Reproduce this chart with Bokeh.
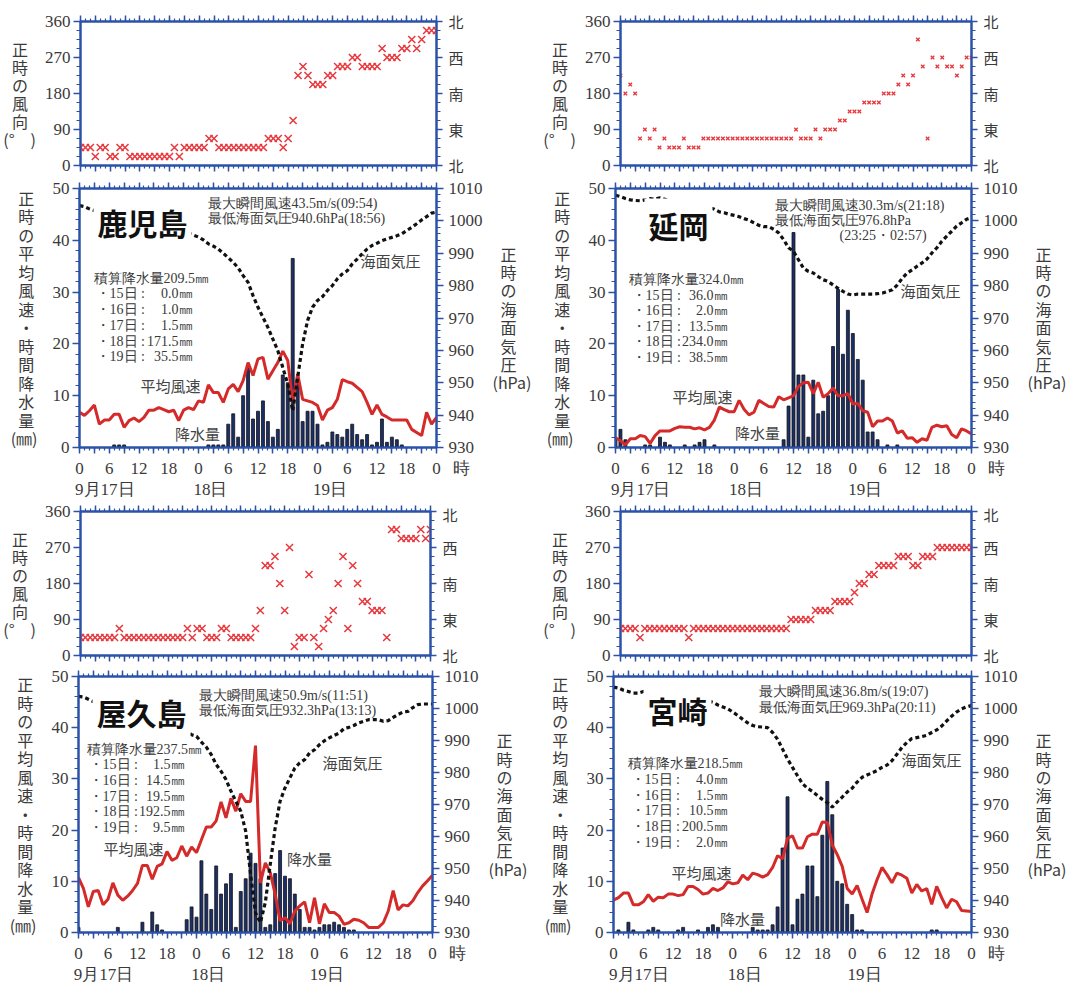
from bokeh.plotting import figure
from bokeh.models import Range1d, LinearAxis, FixedTicker, Label
from bokeh.layouts import column, row
from bokeh.embed import file_html
from bokeh.resources import INLINE

HOURS = list(range(73))
DAY_LABELS = ["9月17日", "18日", "19日"]
RAIN_DAYS = ["15日", "16日", "17日", "18日", "19日"]

# ---------------- 鹿児島 ----------------
kago_dir = [45, 45, 45, 22.5, 45, 45, 22.5, 22.5, 45, 45,
            22.5, 22.5, 22.5, 22.5, 22.5, 22.5, 22.5, 22.5, 22.5, 45,
            22.5, 45, 45, 45, 45, 45, 67.5, 67.5, 45, 45,
            45, 45, 45, 45, 45, 45, 45, 45, 67.5, 67.5,
            67.5, 45, 67.5, 112.5, 225, 247.5, 225, 202.5, 202.5, 202.5,
            225, 225, 247.5, 247.5, 247.5, 270, 270, 247.5, 247.5, 247.5,
            247.5, 292.5, 270, 270, 270, 292.5, 292.5, 315, 292.5, 315,
            337.5, 337.5, 337.5]
kago_wind = [6.8, 6.2, 7.1, 8.2, 4.5, 5.3, 5.3, 6.4, 6.4, 3.9,
             5.2, 5.7, 5.0, 5.8, 7.2, 7.2, 7.7, 7.3, 6.9, 7.2,
             5.2, 7.2, 7.7, 7.3, 9.0, 8.7, 12.1, 10.6, 10.6, 8.7,
             11.3, 12.2, 10.8, 12.9, 16.4, 13.9, 17.1, 17.4, 13.2, 14.8,
             16.4, 18.6, 16.8, 8.7, 14.2, 9.3, 9.0, 8.7, 8.1, 5.3,
             7.2, 7.7, 9.3, 13.1, 12.7, 12.4, 11.6, 10.8, 8.7, 6.4,
             8.2, 6.4, 5.9, 5.3, 5.3, 5.3, 5.3, 3.5, 2.9, 2.3,
             6.8, 4.5, 5.8]
kago_pres = [1004.7, 1004.4, 1003.7, 1003.2, 1002.8, 1002.5, 1002.3, 1002.0, 1001.8, 1001.5,
             1001.3, 1001.0, 1000.6, 1000.2, 999.8, 999.5, 999.1, 998.7, 998.3, 997.9,
             997.5, 996.9, 996.3, 995.6, 995.0, 994.1, 992.9, 992.2, 991.3, 990.0,
             988.6, 987.2, 985.5, 983.1, 981.0, 976.9, 973.3, 970.2, 967.1, 963.5,
             959.9, 954.7, 949.6, 941.3, 951.6, 962.0, 969.2, 973.3, 975.4, 976.6,
             978.5, 980.0, 982.1, 983.6, 984.6, 986.7, 988.2, 989.8, 991.3, 992.4,
             993.1, 993.9, 994.4, 994.9, 995.4, 996.0, 997.0, 998.0, 999.1, 1000.3,
             1001.3, 1002.4, 1002.7]
kago_rain = [0, 0, 0, 0, 0, 0, 0, 0.5, 0.5, 0.5,
             0, 0, 0, 0, 0, 0, 0, 0, 0, 0,
             0, 0, 0, 0, 0, 0, 0.5, 0.5, 0.5, 0.5,
             4.5, 6.5, 2.0, 10, 15.5, 5.5, 7, 9, 5, 2,
             3.5, 14, 12.5, 36.5, 12.5, 5, 7, 7, 4.5, 0.5,
             1, 3, 2.5, 2, 3.5, 4.5, 2.5, 1.5, 2.5, 0.5,
             1, 5.5, 1, 2, 1.5, 0.5, 0, 0, 0, 0,
             0, 0, 0]
kago_rain_days = ["0.0㎜", "1.0㎜", "1.5㎜", "171.5㎜", "35.5㎜"]

# ---------------- 延岡 ----------------
nobe_dir = [225, 180, 202.5, 180, 67.5, 90, 67.5, 90, 45, 67.5,
            45, 45, 45, 67.5, 45, 45, 45, 67.5, 67.5, 67.5,
            67.5, 67.5, 67.5, 67.5, 67.5, 67.5, 67.5, 67.5, 67.5, 67.5,
            67.5, 67.5, 67.5, 67.5, 67.5, 67.5, 90, 67.5, 67.5, 67.5,
            90, 67.5, 90, 90, 90, 112.5, 112.5, 135, 135, 135,
            157.5, 157.5, 157.5, 157.5, 180, 180, 180, 202.5, 225, 202.5,
            225, 315, 247.5, 67.5, 270, 247.5, 270, 247.5, 247.5, 225,
            247.5, 270, 270]
nobe_wind = [1.9, 1.3, 0.5, 1.7, 1.7, 2.3, 2.1, 0.8, 2.3, 3.2,
             3.2, 3.2, 3.7, 4.0, 3.9, 3.9, 3.6, 3.8, 3.4, 3.9,
             5.3, 7.8, 7.3, 6.9, 6.9, 9.1, 7.4, 6.3, 6.8, 9.1,
             8.5, 7.9, 7.8, 9.8, 9.2, 9.6, 10.0, 11.8, 12.5, 12.6,
             10.4, 12.6, 9.7, 10.4, 11.5, 10.0, 10.0, 10.4, 8.4, 8.5,
             7.1, 6.8, 4.0, 5.1, 5.1, 5.7, 5.1, 2.8, 3.2, 1.8,
             1.9, 1.0, 1.7, 1.4, 3.9, 4.3, 4.0, 4.2, 2.5, 1.9,
             3.6, 3.2, 2.6]
nobe_pres = [1007.9, 1007.5, 1006.9, 1006.5, 1006.3, 1006.2, 1006.5, 1006.9, 1006.7, 1007.1,
             1006.7, 1006.1, 1005.6, 1005.1, 1004.8, 1004.4, 1004.4, 1004.1, 1004.2, 1004.1,
             1003.6, 1002.8, 1002.5, 1002.0, 1001.7, 1001.3, 1000.7, 1000.2, 999.4, 998.6,
             998.2, 998.2, 997.4, 996.3, 994.2, 991.7, 990.6, 988.0, 985.4, 984.4,
             983.9, 982.8, 981.8, 981.3, 980.2, 979.2, 978.2, 977.4, 977.1, 977.4,
             977.4, 977.4, 977.4, 977.5, 977.7, 978.2, 978.7, 980.2, 982.3, 983.9,
             984.9, 986.0, 987.0, 988.2, 990.1, 991.7, 993.7, 995.3, 996.8, 998.4,
             999.4, 1000.5, 1001.0]
nobe_rain = [1.5, 3.5, 1.5, 0, 0, 0, 0.5, 0.5, 0, 2.0,
             1.0, 0.5, 0, 0, 0.5, 0, 0.5, 1.0, 1.5, 0,
             0.5, 0, 0, 0, 0, 0, 0, 0, 0, 0,
             0, 0, 0, 0, 1.5, 8, 41.5, 14, 14, 2,
             13, 6.5, 7, 10, 19.5, 30.5, 18, 26.5, 22, 17,
             13, 3, 3, 1.5, 0, 0.5, 0, 0.5, 0, 0,
             0, 0, 0, 0, 0, 0, 0, 0, 0, 0,
             0, 0, 0]
nobe_rain_days = ["36.0㎜", "2.0㎜", "13.5㎜", "234.0㎜", "38.5㎜"]

# ---------------- 屋久島 ----------------
yaku_dir = [45, 45, 45, 45, 45, 45, 45, 45, 67.5, 45,
            45, 45, 45, 45, 45, 45, 45, 45, 45, 45,
            45, 45, 67.5, 45, 67.5, 67.5, 45, 45, 45, 67.5,
            67.5, 45, 45, 45, 45, 45, 67.5, 112.5, 225, 225,
            247.5, 180, 112.5, 270, 22.5, 45, 45, 202.5, 45, 22.5,
            67.5, 90, 112.5, 180, 247.5, 67.5, 225, 180, 135, 135,
            112.5, 112.5, 112.5, 45, 315, 315, 292.5, 292.5, 292.5, 292.5,
            315, 292.5, 315]
yaku_wind = [10.7, 8.6, 5.0, 8.0, 8.2, 5.4, 6.5, 9.7, 7.3, 6.3,
             7.1, 8.2, 9.6, 13.1, 13.1, 10.4, 12.9, 13.4, 15.8, 14.1,
             14.6, 16.9, 14.9, 16.7, 15.6, 18.1, 20.6, 20.6, 21.8, 25.5,
             22.4, 26.2, 23.7, 27.1, 25.6, 25.6, 36.5, 9.7, 13.6, 11.7,
             7.5, 2.3, 2.9, 1.7, 4.2, 5.2, 6.0, 1.9, 6.8, 1.7,
             5.6, 3.9, 3.9, 3.2, 1.6, 1.9, 2.6, 2.4, 1.9, 1.0,
             1.0, 1.0, 1.9, 4.2, 8.2, 4.4, 5.4, 5.2, 6.2, 7.8,
             9.1, 10.1, 11.2]
yaku_pres = [1003.8, 1003.6, 1002.9, 1002.2, 1001.8, 1001.5, 1001.2, 1000.9, 1000.6, 1000.3,
             1000.0, 999.6, 999.2, 998.8, 998.4, 998.0, 997.5, 997.0, 996.4, 995.8,
             995.1, 994.4, 992.9, 991.8, 991.3, 989.5, 987.9, 985.6, 982.5, 980.4,
             977.8, 974.2, 971.0, 967.9, 961.7, 948.2, 936.2, 933.1, 939.4, 951.3,
             962.7, 971.0, 975.2, 978.3, 981.4, 983.0, 984.0, 986.1, 987.1, 988.7,
             989.9, 990.8, 991.6, 992.3, 993.7, 994.1, 994.7, 995.5, 996.0, 996.5,
             996.5, 996.5, 996.0, 996.2, 997.2, 998.1, 998.9, 999.1, 1000.3, 1001.2,
             1001.4, 1001.4, 1001.4]
yaku_rain = [1.0, 0, 0, 0, 0, 0, 0, 0, 1.0, 0,
             0, 0, 0, 2.0, 0, 4.0, 1.5, 0.5, 0, 0,
             0, 0, 2.5, 5.0, 3.0, 14, 7.5, 4.5, 13, 7.5,
             9.5, 11.5, 1.0, 8.0, 10.5, 15.5, 13.5, 10.5, 1.0, 1.5,
             11.5, 16, 11, 10.5, 7.5, 4.5, 1.0, 1.0, 0.5, 1.0,
             1.5, 1.5, 2.0, 1.5, 1.0, 0.5, 0.5, 0, 0, 0,
             0, 0, 0, 0, 0, 0, 0, 0, 0, 0,
             0, 0, 0]
yaku_rain_days = ["1.5㎜", "14.5㎜", "19.5㎜", "192.5㎜", "9.5㎜"]

# ---------------- 宮崎 ----------------
miya_dir = [67.5, 67.5, 67.5, 67.5, 45, 67.5, 67.5, 67.5, 67.5, 67.5,
            67.5, 67.5, 67.5, 67.5, 45, 67.5, 67.5, 67.5, 67.5, 67.5,
            67.5, 67.5, 67.5, 67.5, 67.5, 67.5, 67.5, 67.5, 67.5, 67.5,
            67.5, 67.5, 67.5, 67.5, 67.5, 90, 90, 90, 90, 90,
            112.5, 112.5, 112.5, 112.5, 135, 135, 135, 135, 157.5, 180,
            180, 202.5, 202.5, 225, 225, 225, 225, 247.5, 247.5, 247.5,
            225, 225, 247.5, 247.5, 247.5, 270, 270, 270, 270, 270,
            270, 270, 270]
miya_wind = [6.3, 6.8, 7.7, 7.7, 5.4, 5.4, 6.0, 7.4, 6.1, 6.9,
             6.8, 7.5, 7.5, 7.2, 7.4, 9.0, 9.0, 8.4, 7.5, 7.7,
             8.6, 8.2, 8.7, 9.9, 9.5, 9.7, 11.2, 10.3, 11.6, 11.3,
             10.8, 11.3, 12.7, 15.0, 14.4, 18.4, 18.9, 16.5, 16.5, 18.7,
             19.2, 19.2, 21.6, 21.5, 17.1, 15.2, 12.9, 8.6, 7.5, 9.2,
             6.5, 3.9, 7.5, 10.3, 12.7, 11.3, 9.7, 11.6, 11.2, 10.6,
             7.7, 9.4, 8.1, 8.6, 5.5, 9.0, 6.8, 4.8, 6.5, 6.0,
             4.3, 4.2, 4.1]
miya_pres = [1006.7, 1006.4, 1005.7, 1005.3, 1004.8, 1004.8, 1005.3, 1005.7, 1005.7, 1005.5,
             1005.5, 1005.0, 1004.8, 1004.5, 1004.2, 1003.9, 1003.6, 1003.2, 1002.8, 1002.4,
             1001.9, 1001.1, 1000.5, 999.9, 998.9, 997.8, 996.6, 995.5, 994.7, 994.3,
             994.2, 994.0, 992.5, 990.4, 987.3, 984.2, 981.6, 979.0, 976.5, 975.1,
             974.1, 972.8, 971.6, 970.6, 969.2, 970.8, 972.3, 973.9, 975.1, 977.0,
             978.5, 979.2, 979.9, 980.6, 981.6, 982.3, 983.7, 985.7, 987.8, 989.4,
             990.6, 990.9, 991.2, 991.6, 992.5, 993.3, 994.5, 996.1, 997.6, 998.9,
             999.9, 1000.5, 1000.9]
miya_rain = [0, 0.5, 0, 2.0, 0.5, 0, 0, 0.5, 1.0, 0.5,
             0, 0, 0, 0.5, 1.0, 0, 0, 0.5, 0, 1.0,
             1.5, 1.0, 0, 0, 0, 0, 0, 0, 1.0, 0.5,
             0.5, 0.5, 1.5, 5.0, 16.5, 26.5, 1.5, 6.5, 7.5, 13,
             13, 7, 19, 29.5, 23, 10, 9.5, 5.5, 3.5, 0.5,
             0.5, 0, 0, 0, 0, 0, 0, 0, 0, 0,
             0, 0, 0, 0, 0.5, 0.5, 0, 0, 0, 0,
             0, 0, 0]
miya_rain_days = ["4.0㎜", "1.5㎜", "10.5㎜", "200.5㎜", "2.0㎜"]

# ---------------- styling ----------------
AX = "#2c52a8"
RED = "#d42a2a"
MARK = "#e8383d"
BAR = "#1b2f6b"
TXT = "#3a3a3a"
SERIF = "Liberation Serif"
CJK = "Noto Sans CJK JP"
DATE_POS = [5.1, 26.4, 50.5]   # label anchor hours for the date row
EN = "\u2002"


def style_axis(ax, out_major, out_minor, size="17px", font=SERIF, standoff=4, show=True):
    ax.axis_line_color = AX
    ax.axis_line_width = 2
    ax.major_tick_line_color = AX
    ax.major_tick_line_width = 1.5
    ax.minor_tick_line_color = AX
    ax.minor_tick_line_width = 1.2
    ax.major_tick_in = 0
    ax.major_tick_out = out_major
    ax.minor_tick_in = 0
    ax.minor_tick_out = out_minor
    ax.major_label_text_font = font
    ax.major_label_text_color = TXT
    if show:
        ax.major_label_text_font_size = size
        ax.major_label_standoff = standoff
    else:
        ax.major_label_text_font_size = "0px"
        ax.major_label_standoff = 0
    return ax


def stacked_label(ax, chars, size, lh, standoff):
    ax.axis_label = "\n".join(chars)
    ax.axis_label_text_font = CJK
    ax.axis_label_text_font_size = size
    ax.axis_label_text_font_style = "normal"
    ax.axis_label_text_color = TXT
    ax.axis_label_text_line_height = lh
    ax.axis_label_standoff = standoff
    if "axis_label_orientation" in ax.properties():
        ax.axis_label_orientation = "horizontal"


def hour_axis(show):
    ticks = list(range(0, 73, 3))
    ax = LinearAxis(ticker=FixedTicker(ticks=ticks, minor_ticks=HOURS))
    if show:
        ov = {t: (str(t % 24) if t % 6 == 0 else "") for t in ticks}
        ov[72] = "\u3000\u2002\u20090\u2002\u2009時"
    else:
        ov = {t: "" for t in ticks}
    ax.major_label_overrides = ov
    return style_axis(ax, 6, 3, show=show, standoff=5)


def date_axis():
    ax = LinearAxis(ticker=FixedTicker(ticks=DATE_POS, minor_ticks=[]))
    ax.major_label_overrides = {t: s for t, s in zip(DATE_POS, DAY_LABELS)}
    ax.axis_line_color = None
    ax.major_tick_line_color = None
    ax.minor_tick_line_color = None
    ax.major_tick_out = 0
    ax.major_label_standoff = -1
    ax.major_label_text_font = SERIF
    ax.major_label_text_font_size = "17px"
    ax.major_label_text_color = TXT
    return ax


def base_fig(g, yr):
    x0, y0, w, h = g["fig"]
    fl, fr, ft, fb = g["frame"]
    p = figure(width=w, height=h, x_range=Range1d(0, 72), y_range=Range1d(*yr),
               min_border_left=fl - x0, min_border_right=x0 + w - fr,
               min_border_top=ft - y0, min_border_bottom=y0 + h - fb,
               output_backend="svg", toolbar_location=None,
               x_axis_location=None, y_axis_location=None)
    p.xgrid.visible = False
    p.ygrid.visible = False
    p.outline_line_color = AX
    p.outline_line_width = 2
    p.background_fill_color = "white"
    p.border_fill_color = "white"
    return p


def to_data(g, px, py):
    fl, fr, ft, fb = g["frame"]
    ya, yb = g["yr"]
    return (px - fl) / (fr - fl) * 72.0, ya + (fb - py) / (fb - ft) * (yb - ya)


def txt(p, g, px, py, text, size="14px", font=SERIF, align="left", color=TXT, bold=False, bg=None):
    x, y = to_data(g, px, py)
    lab = Label(x=x, y=y, text=text, text_font=font, text_font_size=size, text_color=color,
                text_align=align, text_baseline="middle",
                text_font_style="bold" if bold else "normal")
    if bg is not None:
        lab.background_fill_color = bg
        lab.padding = 4
    p.add_layout(lab)


def dir_fig(g, dirs, msize, mwidth):
    g = dict(g, yr=(0, 360))
    p = base_fig(g, (0, 360))
    p.scatter(HOURS, dirs, marker="x", size=msize, line_color=MARK, line_width=mwidth)
    la = LinearAxis(ticker=FixedTicker(ticks=[0, 90, 180, 270, 360],
                                       minor_ticks=[22.5 * i for i in range(17)]))
    style_axis(la, 7, 4, standoff=3)
    stacked_label(la, [c + EN for c in ["正", "時", "の", "風", "向"]] + ["(°\u3000)"], "16px", 0.75, 6)
    p.add_layout(la, "left")
    ra = LinearAxis(ticker=FixedTicker(ticks=[0, 90, 180, 270, 360],
                                       minor_ticks=[22.5 * i for i in range(17)]))
    ra.major_label_overrides = {0: "北", 90: "東", 180: "南", 270: "西", 360: "北"}
    p.add_layout(style_axis(ra, 6, 4, size="15px", font=CJK, standoff=6), "right")
    p.add_layout(hour_axis(False), "above")
    p.add_layout(hour_axis(False), "below")
    return p


def main_fig(g, rain, wind, pres, T):
    g = dict(g, yr=(0, 50))
    p = base_fig(g, (0, 50))
    p.extra_y_ranges = {"p": Range1d(930, 1010)}
    p.vbar(x=HOURS, top=rain, width=0.6, bottom=0, fill_color=BAR, line_color="#111111", line_width=0.8)
    p.line(HOURS, wind, line_color=RED, line_width=3)
    p.line(HOURS, pres, y_range_name="p", line_color="#111111", line_width=3.2, line_dash="4 3")
    la = LinearAxis(ticker=FixedTicker(ticks=list(range(0, 51, 10)), minor_ticks=list(range(0, 51, 2))))
    style_axis(la, 7, 4, standoff=3)
    stacked_label(la, [c + "\u2009" for c in ["正", "時", "の", "平", "均", "風", "速", "・", "時",
                                              "間", "降", "水", "量"]] + ["(㎜)"],
                  "16px", 0.77, 12)
    p.add_layout(la, "left")
    ra = LinearAxis(y_range_name="p", ticker=FixedTicker(ticks=list(range(930, 1011, 10)),
                                                          minor_ticks=list(range(930, 1011, 2))))
    style_axis(ra, 7, 4, standoff=5)
    stacked_label(ra, [EN + c for c in ["正", "時", "の", "海", "面", "気", "圧"]] + ["(hPa)"],
                  "16px", 0.765, 7)
    p.add_layout(ra, "right")
    p.add_layout(hour_axis(False), "above")
    p.add_layout(hour_axis(True), "below")
    p.add_layout(date_axis(), "below")

    txt(p, g, T["title_xy"][0], T["title_xy"][1], T["title"], size="30px", font=CJK,
        align="center", color="#111111", bold=True, bg="white")
    for s, x, y in T["info"]:
        txt(p, g, x, y, s, size="14px")
    hx, hy = T["rain_head_xy"]
    txt(p, g, hx, hy, T["rain_head"], size="14px")
    bx, vx = T["rain_x"]
    for d, v, y in zip(RAIN_DAYS, T["rain_vals"], T["rain_y"]):
        txt(p, g, bx, y, "・" + d + " :", size="14px")
        txt(p, g, vx, y, v, size="14px", align="right")
    for key in ("平均風速", "降水量", "海面気圧"):
        x, y = T[key]
        txt(p, g, x, y, key, size="15px", font=CJK, align="center", color="#444444")
    return p


# figure boxes (x, y, w, h) and frame (left, right, top, bottom) in page pixels
G = {
    "1d": {"fig": (0, 0, 540, 178), "frame": (79, 436, 21, 165)},
    "1m": {"fig": (0, 178, 540, 325), "frame": (79, 436, 188, 447)},
    "2d": {"fig": (540, 0, 532, 178), "frame": (615, 971, 21, 165)},
    "2m": {"fig": (540, 178, 532, 325), "frame": (615, 971, 188, 447)},
    "3d": {"fig": (0, 503, 540, 162), "frame": (77, 430, 511, 655)},
    "3m": {"fig": (0, 665, 540, 323), "frame": (78, 432, 676, 932)},
    "4d": {"fig": (540, 503, 532, 162), "frame": (611, 971, 511, 655)},
    "4m": {"fig": (540, 665, 532, 323), "frame": (613, 971, 676, 932)},
}

T1 = dict(title="鹿児島", title_xy=(142, 221),
          info=[("最大瞬間風速43.5m/s(09:54)", 207, 203), ("最低海面気圧940.6hPa(18:56)", 207, 218)],
          rain_head="積算降水量209.5㎜", rain_head_xy=(93, 278), rain_x=(95, 192),
          rain_vals=kago_rain_days, rain_y=[293, 309, 325, 341, 356],
          **{"平均風速": (170, 385), "降水量": (197, 433), "海面気圧": (390, 260)})
T2 = dict(title="延岡", title_xy=(678, 224),
          info=[("最大瞬間風速30.3m/s(21:18)", 774, 205), ("最低海面気圧976.8hPa", 774, 220),
                ("(23:25・02:57)", 839, 235)],
          rain_head="積算降水量324.0㎜", rain_head_xy=(628, 279), rain_x=(631, 727),
          rain_vals=nobe_rain_days, rain_y=[295, 310, 326, 341, 357],
          **{"平均風速": (702, 396), "降水量": (757, 432), "海面気圧": (930, 290)})
T3 = dict(title="屋久島", title_xy=(141, 711),
          info=[("最大瞬間風速50.9m/s(11:51)", 198, 695), ("最低海面気圧932.3hPa(13:13)", 198, 710)],
          rain_head="積算降水量237.5㎜", rain_head_xy=(86, 749), rain_x=(88, 184),
          rain_vals=yaku_rain_days, rain_y=[764, 780, 796, 811, 827],
          **{"平均風速": (133, 848), "降水量": (309, 858), "海面気圧": (352, 762)})
T4 = dict(title="宮崎", title_xy=(677, 709),
          info=[("最大瞬間風速36.8m/s(19:07)", 758, 691), ("最低海面気圧969.3hPa(20:11)", 758, 707)],
          rain_head="積算降水量218.5㎜", rain_head_xy=(627, 763), rain_x=(630, 727),
          rain_vals=miya_rain_days, rain_y=[779, 795, 810, 826, 842],
          **{"平均風速": (701, 872), "降水量": (742, 918), "海面気圧": (931, 759)})

p1d = dir_fig(G["1d"], kago_dir, 10, 1.5)
p1m = main_fig(G["1m"], kago_rain, kago_wind, kago_pres, T1)
p2d = dir_fig(G["2d"], nobe_dir, 5, 1.3)
p2m = main_fig(G["2m"], nobe_rain, nobe_wind, nobe_pres, T2)
p3d = dir_fig(G["3d"], yaku_dir, 10, 1.5)
p3m = main_fig(G["3m"], yaku_rain, yaku_wind, yaku_pres, T3)
p4d = dir_fig(G["4d"], miya_dir, 10, 1.5)
p4m = main_fig(G["4m"], miya_rain, miya_wind, miya_pres, T4)

layout = column(row(p1d, p2d), row(p1m, p2m), row(p3d, p4d), row(p3m, p4m))

open("out.html", "w").write(file_html(layout, INLINE))
